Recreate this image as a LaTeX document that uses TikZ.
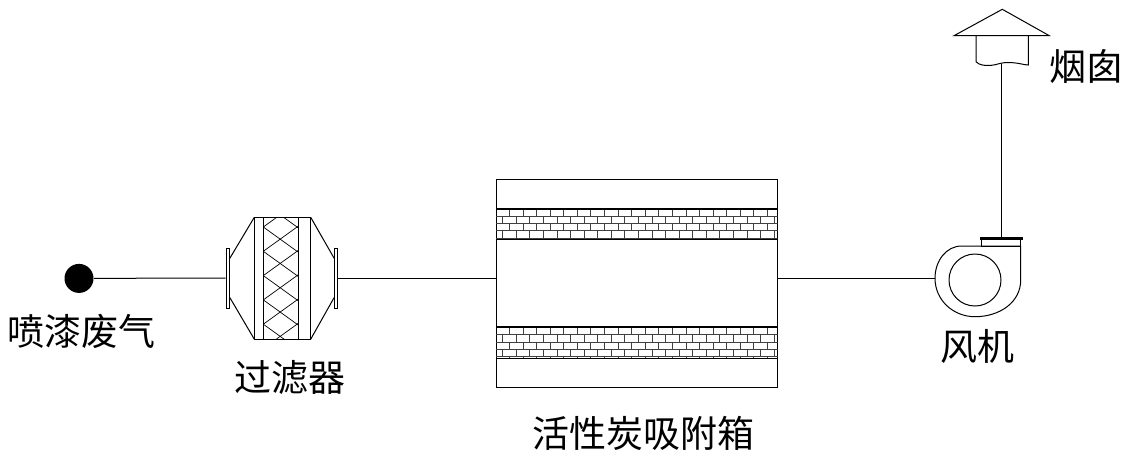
\documentclass[tikz,border=0pt]{standalone}
\usepackage{fontspec}
\newfontfamily\cjk{Noto Sans CJK SC}
\begin{document}
\begin{tikzpicture}[x=1pt,y=-1pt,
  line width=1pt,
  lbl/.style={font=\cjk\fontsize{37pt}{41pt}\selectfont, inner sep=0pt, anchor=center},
  brick/.style={line width=0.6pt, black!75},
  flange/.style={draw, line width=1pt, minimum width=3.3pt, minimum height=60pt, inner sep=0pt},
  pipe/.style={line width=1pt}]
\useasboundingbox (0,0) rectangle (1143,469);

% source
\node[circle, fill=black, minimum size=29pt, inner sep=0pt] (src) at (79,278.4) {};
\node[lbl] (srclbl) at (81,331) {喷漆废气};

% filter
\node[flange] (fl) at (227.65,278) {};
\node[flange] (fr) at (336.3,278) {};
\draw (254.3,217.3) rectangle (310.7,339.2);
\draw (263.3,217.3) -- (263.3,339.2);
\draw (298.7,217.3) -- (298.7,339.2);
\draw (fl.east |- 0,258.3) -- (254.3,217.3);
\draw (fl.east |- 0,297.5) -- (254.3,339.2);
\draw (310.7,217.3) -- (fr.west |- 0,258.3);
\draw (310.7,339.2) -- (fr.west |- 0,297.5);
\begin{scope}
  \clip (263.3,217.3) rectangle (298.7,339.2);
  \foreach \k in {-4,...,7}{
    \draw[line width=0.7pt] (263.3,{227+24.3*\k}) -- ++(35.4,{0.72*35.4});
    \draw[line width=0.7pt] (263.3,{227+24.3*\k}) -- ++(35.4,{-0.72*35.4});
  }
\end{scope}
\node[lbl] (fltlbl) at (289.5,378) {过滤器};

% activated carbon box
\node[draw, line width=1pt, minimum width=281.7pt, minimum height=208pt, inner sep=0pt] (box) at (636.85,283.3) {};
\foreach \top/\bot in {208.7/239.7, 327.3/358.6}{
  \begin{scope}
    \clip (496,\top) rectangle (777.7,\bot);
    \foreach \r in {0,...,4}{
      \pgfmathsetmacro\yy{\top+7.35*\r}
      \pgfmathsetmacro\off{mod(\r,2)*6.79}
      \draw[brick] (496,\yy) -- (777.7,\yy);
      \foreach \j in {-1,...,21}{
        \draw[brick] ({509.3+13.58*\j-\off},\yy) -- ++(0,7.35);
      }
    }
  \end{scope}
  \draw[line width=1.7pt] (496,\top) -- (777.7,\top);
  \draw[line width=0.9pt] (496,\bot) -- (777.7,\bot);
}
\node[lbl] (boxlbl) at (643,433) {活性炭吸附箱};

% fan
\coordinate (fanin) at (935,278.3);
\draw (1020.7,246) -- (961.7,246)
  .. controls (946,246) and (935,261) .. (fanin)
  .. controls (935,300) and (953,316.7) .. (975,316.7)
  .. controls (1000,316.7) and (1020.7,302) .. (1020.7,280) -- cycle;
\draw (975,280) circle[radius=26pt];
\draw (981.7,239.5) rectangle (1020.7,246);
\draw[line width=2.4pt] (980,238.3) -- (1022.7,238.3);
\coordinate (fanout) at (1001.7,237.5);
\node[lbl] (fanlbl) at (977.5,346.5) {风机};

% chimney
\draw (954,35.7) -- (1002.3,9.3) -- (1049.3,35.7) -- cycle;
\draw (976,35.7) -- (976,61.7)
  .. controls (979,65) and (984,65.7) .. (990,65.5)
  .. controls (997,65) and (1000,62.5) .. (1008,62.5)
  .. controls (1018,62.5) and (1024,65) .. (1028.3,65) -- (1028.3,35.7);
\coordinate (stacktop) at (1001.7,63.5);
\node[lbl] (chimlbl) at (1086,66) {烟囱};

% connectors
\draw[pipe] (src) -- (fl.west);
\draw[pipe] (fr.east) -- (fr.east -| box.west);
\draw[pipe] (box.east |- fanin) -- (fanin);
\draw[pipe] (fanout) -- (stacktop);
\end{tikzpicture}
\end{document}
